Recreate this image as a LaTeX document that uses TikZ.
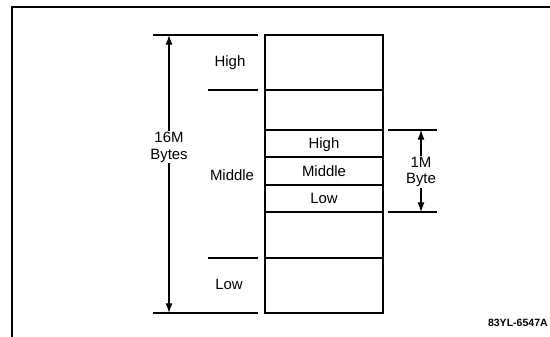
\documentclass[tikz,border=0pt]{standalone}
\usepackage{fontspec}
\setmainfont{Liberation Sans}
\usetikzlibrary{arrows.meta}

\begin{document}
\begin{tikzpicture}[x=0.02cm,y=-0.02cm,>={Latex[length=5.5pt,width=4pt]},
  every node/.style={font=\fontsize{8.5}{9.5}\selectfont,inner sep=0.5pt},
  rule/.style={line width=0.6pt}]
\useasboundingbox (0,0) rectangle (550,337);
% frame
\draw[line width=0.8pt](12,337)--(12,7)--(550,7);
% memory block
\draw[line width=1pt](265,35) rectangle (383,313);
\foreach \y in {90,130,157,185,212,258}
  \draw[rule](265,\y)--(383,\y);
% marks on the left
\coordinate (topL) at (153,35);
\coordinate (topR) at (258,35);
\coordinate (hiL) at (208,90);
\coordinate (hiR) at (258,90);
\coordinate (loL) at (208,258);
\coordinate (loR) at (258,258);
\coordinate (botL) at (153,313);
\coordinate (botR) at (258,313);
\draw[line width=0.8pt](topL)--(topR);
\draw[rule](hiL)--(hiR);
\draw[rule](loL)--(loR);
\draw[line width=0.8pt](botL)--(botR);
% marks on the right
\coordinate (mtopL) at (388,130);
\coordinate (mtopR) at (437,130);
\coordinate (mbotL) at (388,212);
\coordinate (mbotR) at (437,212);
\draw[rule](mtopL)--(mtopR);
\draw[rule](mbotL)--(mbotR);
% labels
\node (hi) at (230,63) {High};
\node (mid) at (232,175) {Middle};
\node (lo) at (229,284) {Low};
\node (bhi) at (324,145) {High};
\node (bmid) at (324,171) {Middle};
\node (blo) at (324,198) {Low};
\node[align=center] (sixteen) at (169,147) {16M\\Bytes};
\node[align=center] (one) at (421,172) {1M\\Byte};
\node[anchor=east,font=\fontsize{6}{7}\selectfont\bfseries] (fig) at (549,323) {83YL-6547A};
% arrows
\coordinate (s16) at (169,35);
\coordinate (e16) at (169,313);
\coordinate (s1) at (421,130);
\coordinate (e1) at (421,212);
\draw[->,line width=0.7pt](sixteen.north)--(s16);
\draw[->,line width=0.7pt](sixteen.south)--(e16);
\draw[->,line width=0.6pt](one.north)--(s1);
\draw[->,line width=0.6pt](one.south)--(e1);
\end{tikzpicture}
\end{document}
